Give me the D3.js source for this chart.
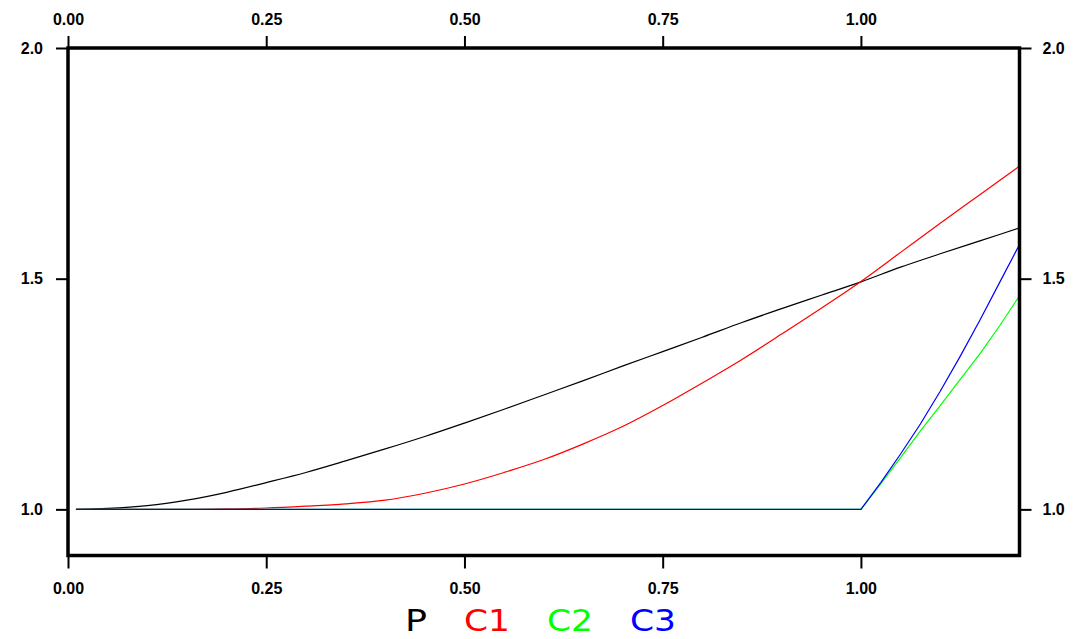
<!DOCTYPE html>
<html lang="en">

<head>
    <meta charset="UTF-8">
    <title>P and C1, C2, C3</title>
    <style>
        body {
            margin: 0;
            padding: 0;
            background-color: #fff;
        }

        #chart-container {
            width: 1077px;
            height: 639px;
        }

        .tick text {
            font-family: 'Liberation Sans', Arial, sans-serif;
            font-weight: bold;
            font-size: 16px;
            fill: #000;
        }

        .legend text {
            font-family: 'DejaVu Sans', sans-serif;
            font-size: 31px;
        }
    </style>
</head>

<body>
<div id="chart-container"></div>

<script src="https://cdnjs.cloudflare.com/ajax/libs/d3/7.8.5/d3.min.js"></script>
<script>
    // values
    const xs = [0.01, 0.05, 0.10, 0.15, 0.20, 0.25, 0.30, 0.35, 0.40, 0.45, 0.50, 0.55, 0.60,
        0.65, 0.70, 0.75, 0.80, 0.85, 0.90, 0.95, 1.00, 1.05, 1.10, 1.15, 1.20];
    const pValues = [1.000, 1.002, 1.008, 1.020, 1.037, 1.058, 1.080, 1.105, 1.131, 1.158, 1.187, 1.217, 1.248,
        1.279, 1.311, 1.342, 1.373, 1.405, 1.435, 1.464, 1.493, 1.525, 1.554, 1.582, 1.610];
    const c1Values = [1.000, 1.000, 1.000, 1.000, 1.001, 1.003, 1.007, 1.012, 1.020, 1.035, 1.055, 1.080, 1.108,
        1.142, 1.180, 1.225, 1.274, 1.325, 1.380, 1.436, 1.494, 1.557, 1.620, 1.682, 1.744];

    const kinkXs = [0.01, 1.000, 1.025, 1.050, 1.075, 1.100, 1.125, 1.150, 1.175, 1.200];
    const c2Values = [1.000, 1.000, 1.055, 1.112, 1.170, 1.225, 1.281, 1.337, 1.398, 1.463];
    const c3Values = [1.000, 1.000, 1.058, 1.120, 1.185, 1.256, 1.331, 1.410, 1.492, 1.574];

    const xTicks = [0, 0.25, 0.5, 0.75, 1.0];
    const yTicks = [1.0, 1.5, 2.0];

    const seriesNames = ["P", "C1", "C2", "C3"];
    const seriesColors = ["#000000", "#ff0000", "#00ff00", "#0000ff"];

    const width = 1077;
    const height = 639;
    const margin = {top: 48, right: 57.5, bottom: 83.5, left: 68};

    const svg = d3.select("#chart-container")
        .append("svg")
        .attr("width", width)
        .attr("height", height);

    const x = d3.scaleLinear()
        .domain([0, 1.2])
        .range([margin.left, width - margin.right]);

    const y = d3.scaleLinear()
        .domain([0.9, 2.0])
        .range([height - margin.bottom, margin.top]);

    function styleAxis(g) {
        g.select(".domain").remove();
        g.selectAll(".tick line")
            .attr("stroke", "#000")
            .attr("stroke-width", 2);
    }

    svg.append("g")
        .attr("transform", "translate(0," + y.range()[0] + ")")
        .call(d3.axisBottom(x).tickValues(xTicks).tickFormat(d3.format(".2f")).tickSize(13).tickPadding(14))
        .call(styleAxis);

    svg.append("g")
        .attr("transform", "translate(0," + y.range()[1] + ")")
        .call(d3.axisTop(x).tickValues(xTicks).tickFormat(d3.format(".2f")).tickSize(12).tickPadding(11))
        .call(styleAxis);

    svg.append("g")
        .attr("transform", "translate(" + x.range()[0] + ",0)")
        .call(d3.axisLeft(y).tickValues(yTicks).tickFormat(d3.format(".1f")).tickSize(12).tickPadding(13))
        .call(styleAxis);

    svg.append("g")
        .attr("transform", "translate(" + x.range()[1] + ",0)")
        .call(d3.axisRight(y).tickValues(yTicks).tickFormat(d3.format(".1f")).tickSize(12).tickPadding(11))
        .call(styleAxis);

    const smoothLine = d3.line()
        .curve(d3.curveMonotoneX)
        .x(function (d) {
            return x(d[0]);
        })
        .y(function (d) {
            return y(d[1]);
        });

    const kinkLine = d3.line()
        .x(function (d) {
            return x(d[0]);
        })
        .y(function (d) {
            return y(d[1]);
        });

    const series = [
        {name: "P", points: d3.zip(xs, pValues), line: smoothLine},
        {name: "C1", points: d3.zip(xs, c1Values), line: smoothLine},
        {name: "C2", points: d3.zip(kinkXs, c2Values), line: kinkLine},
        {name: "C3", points: d3.zip(kinkXs, c3Values), line: kinkLine}
    ];

    svg.append("g")
        .selectAll("path")
        .data(series)
        .enter().append("path")
        .attr("fill", "none")
        .attr("stroke", function (d) {
            return seriesColors[seriesNames.indexOf(d.name)];
        })
        .attr("stroke-width", 1.2)
        .attr("d", function (d) {
            return d.line(d.points);
        });

    // frame
    svg.append("rect")
        .attr("x", x.range()[0])
        .attr("y", y.range()[1])
        .attr("width", x.range()[1] - x.range()[0])
        .attr("height", y.range()[0] - y.range()[1])
        .attr("fill", "none")
        .attr("stroke", "#000")
        .attr("stroke-width", 3.5);

    // legend row under the chart
    const legendX = d3.scalePoint()
        .domain(seriesNames.slice(1))
        .range([464, 630]);

    svg.append("g")
        .attr("class", "legend")
        .selectAll("text")
        .data(seriesNames)
        .enter().append("text")
        .attr("x", function (d) {
            return d === "P" ? 405 : legendX(d);
        })
        .attr("y", 631)
        .attr("textLength", function (d) {
            return d === "P" ? 22 : 46;
        })
        .attr("lengthAdjust", "spacingAndGlyphs")
        .attr("fill", function (d, i) {
            return seriesColors[i];
        })
        .text(function (d) {
            return d;
        });
</script>
</body>

</html>
